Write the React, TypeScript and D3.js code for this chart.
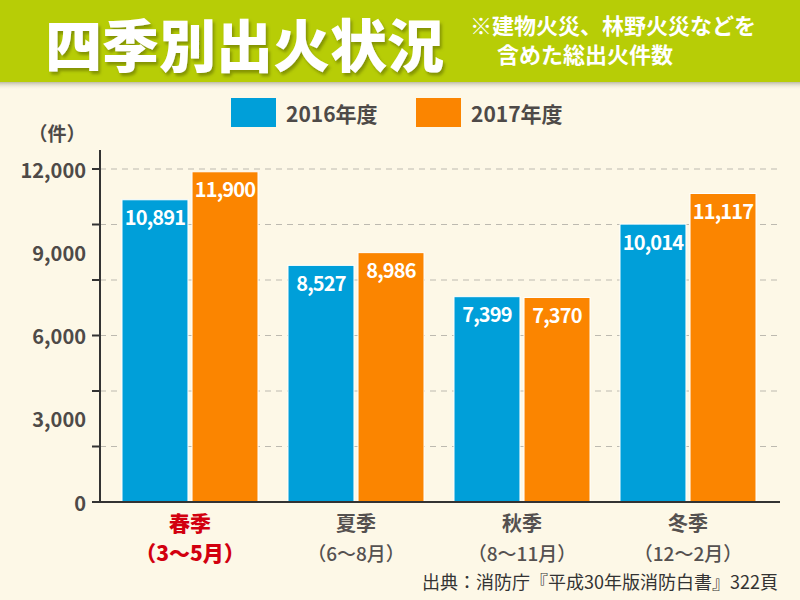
import * as d3 from "d3";
import React from "react";

const seasons = ["春季", "夏季", "秋季", "冬季"];
const months = ["（3〜5月）", "（6〜8月）", "（8〜11月）", "（12〜2月）"];
const years = ["2016年度", "2017年度"];
const values2016 = [10891, 8527, 7399, 10014];
const values2017 = [11900, 8986, 7370, 11117];
const gridTicks = [2000, 4000, 6000, 8000, 10000, 12000];
const labelTicks = [0, 3000, 6000, 9000, 12000];
const colors = ["#009fd9", "#fb8500"];

const font = "'Noto Sans CJK JP', 'Noto Sans', sans-serif";

export default function App() {
  const width = 800;
  const height = 600;

  const x = d3.scaleBand().domain(seasons).range([107, 771]);
  const inner = d3
    .scaleBand()
    .domain(years)
    .range([15, 151])
    .paddingInner(0.058);
  const y = d3.scaleLinear().domain([0, 12000]).range([502, 169]);
  const color = d3.scaleOrdinal<string, string>().domain(years).range(colors);
  const fmt = d3.format(",");

  const series = [values2016, values2017];

  return (
    <svg
      width={width}
      height={height}
      style={{ position: "absolute", left: 0, top: 0, fontFamily: font }}
    >
      <defs>
        <linearGradient id="hdrShadow" x1="0" y1="0" x2="0" y2="1">
          <stop offset="0" stopColor="#8a8a70" stopOpacity="0.55" />
          <stop offset="1" stopColor="#fdf8e7" stopOpacity="0" />
        </linearGradient>
        <filter id="txtShadow" x="-10%" y="-20%" width="120%" height="150%">
          <feDropShadow dx="2" dy="3" stdDeviation="1.5" floodColor="#5a6400" floodOpacity="0.55" />
        </filter>
      </defs>

      {/* background */}
      <rect x={0} y={0} width={width} height={height} fill="#fdf8e7" />

      {/* header band */}
      <rect x={0} y={82} width={width} height={8} fill="url(#hdrShadow)" />
      <rect x={0} y={0} width={width} height={82} fill="#b7cd06" />
      <text
        x={45}
        y={42}
        dominantBaseline="central"
        fontSize={57}
        fontWeight={900}
        fill="#fff"
        filter="url(#txtShadow)"
      >
        四季別出火状況
      </text>
      <text x={470} y={24} dominantBaseline="central" fontSize={22} fontWeight={700} fill="#fff">
        ※建物火災、林野火災などを
      </text>
      <text x={497} y={53} dominantBaseline="central" fontSize={22} fontWeight={700} fill="#fff">
        含めた総出火件数
      </text>

      {/* legend */}
      {years.map((yr, i) => (
        <g key={yr} transform={`translate(${231 + i * 185},98)`}>
          <rect width={45} height={29} fill={color(yr)} />
          <text
            x={55}
            y={14.5}
            dominantBaseline="central"
            fontSize={21}
            fontWeight={700}
            fill="#4e4a48"
          >
            {yr}
          </text>
        </g>
      ))}

      {/* unit */}
      <text x={57} y={132} textAnchor="middle" dominantBaseline="central" fontSize={19} fontWeight={700} fill="#4e4a48">
        （件）
      </text>

      {/* grid lines */}
      {gridTicks.map((t) => (
        <line
          key={t}
          x1={100}
          x2={780}
          y1={y(t)}
          y2={y(t)}
          stroke="#bdbab0"
          strokeWidth={1}
          strokeDasharray="6,5"
        />
      ))}

      {/* bars */}
      {seasons.map((s, i) => (
        <g key={s} transform={`translate(${x(s)},0)`}>
          {years.map((yr, j) => {
            const v = series[j][i];
            const bx = inner(yr) as number;
            const bw = inner.bandwidth();
            return (
              <g key={yr}>
                <rect
                  x={bx}
                  y={y(v)}
                  width={bw}
                  height={y(0) - y(v)}
                  fill={color(yr)}
                  stroke="#fff"
                  strokeWidth={1}
                />
                <text
                  x={bx + bw / 2}
                  y={y(v) + 17}
                  textAnchor="middle"
                  dominantBaseline="central"
                  fontSize={20}
                  fontWeight={700}
                  letterSpacing={-0.8}
                  fill="#fff"
                >
                  {fmt(v)}
                </text>
              </g>
            );
          })}
        </g>
      ))}

      {/* y axis ticks */}
      {d3.range(0, 12001, 2000).map((t) => (
        <line key={t} x1={92} x2={100} y1={y(t)} y2={y(t)} stroke="#333" strokeWidth={2} />
      ))}
      {labelTicks.map((t) => (
        <text
          key={t}
          x={86}
          y={y(t)}
          textAnchor="end"
          dominantBaseline="central"
          fontSize={20}
          fontWeight={700}
          fill="#4e4a48"
        >
          {fmt(t)}
        </text>
      ))}

      {/* axes */}
      <line x1={100} x2={100} y1={150} y2={503} stroke="#333" strokeWidth={2} />
      <line x1={92} x2={780} y1={502} y2={502} stroke="#333" strokeWidth={2} />

      {/* category labels */}
      {seasons.map((s, i) => {
        const cx = (x(s) as number) + x.bandwidth() / 2;
        const spring = i === 0;
        return (
          <g key={s}>
            <text
              x={cx}
              y={522}
              textAnchor="middle"
              dominantBaseline="central"
              fontSize={spring ? 21 : 20}
              fontWeight={spring ? 900 : 700}
              fill={spring ? "#d2000f" : "#555150"}
            >
              {s}
            </text>
            <text
              x={cx}
              y={552}
              textAnchor="middle"
              dominantBaseline="central"
              fontSize={spring ? 21 : 19}
              fontWeight={spring ? 900 : 500}
              fill={spring ? "#d2000f" : "#555150"}
            >
              {months[i]}
            </text>
          </g>
        );
      })}

      {/* source */}
      <text x={778} y={581} textAnchor="end" dominantBaseline="central" fontSize={18} fill="#333">
        出典：消防庁『平成30年版消防白書』322頁
      </text>
    </svg>
  );
}
